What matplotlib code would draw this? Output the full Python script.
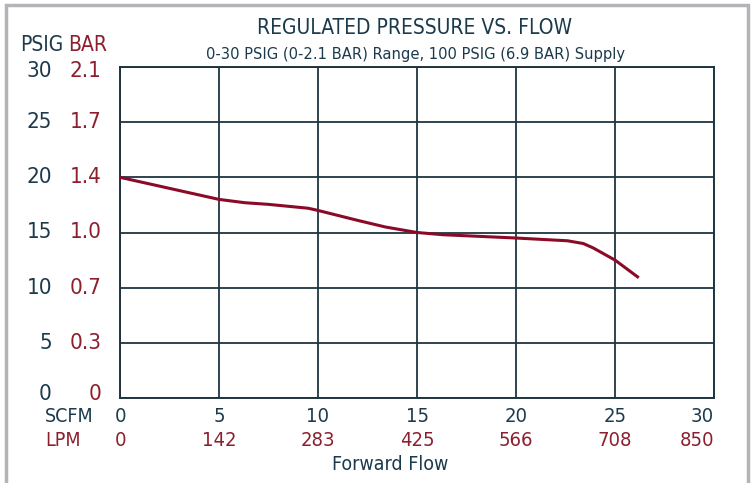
import matplotlib
matplotlib.use("Agg")
import matplotlib.pyplot as plt
from matplotlib import font_manager
from matplotlib.patches import Rectangle
from matplotlib.transforms import offset_copy

cond = [f for f in font_manager.fontManager.ttflist if f.stretch in ("condensed", "semi-condensed", 87.5, 75)]
FONT = cond[0].name if cond else "DejaVu Sans"
plt.rcParams["font.family"] = [FONT, "DejaVu Sans"]
plt.rcParams["font.stretch"] = "condensed"

NAVY = "#1b3a4c"
RED = "#8c1f2e"
LINE = "#8a0a27"
GRID = "#1e3540"

# curve (SCFM, PSIG)
flow_scfm = [0, 2.5, 5, 6.3, 7.5, 9.5, 10, 12, 13.4, 15, 16.3, 20, 22.6, 23.4, 23.9, 25, 26.2]
pressure_psig = [20, 19.0, 18.0, 17.7, 17.55, 17.2, 17.0, 16.1, 15.5, 15.0, 14.8, 14.5, 14.25, 14.0, 13.6, 12.5, 10.9]

psig_ticks = [0, 5, 10, 15, 20, 25, 30]
bar_labels = ["0", "0.3", "0.7", "1.0", "1.4", "1.7", "2.1"]
scfm_ticks = [0, 5, 10, 15, 20, 25, 30]
lpm_labels = ["0", "142", "283", "425", "566", "708", "850"]

fig = plt.figure(figsize=(7.55, 4.83), dpi=100)
ax = fig.add_axes([120 / 755, 1 - 398 / 483, 594 / 755, 331 / 483])

ax.plot(flow_scfm, pressure_psig, color=LINE, linewidth=2.2, solid_capstyle="butt", zorder=3)

ax.set_xlim(0, 30)
ax.set_ylim(0, 30)
ax.set_xticks(scfm_ticks)
ax.set_yticks(psig_ticks)
ax.grid(True, color=GRID, linewidth=1.3)
for s in ax.spines.values():
    s.set_color(GRID)
    s.set_linewidth(1.4)
ax.tick_params(length=0, labelleft=False, labelbottom=False)

# y labels: PSIG and BAR columns (end labels pulled inside a little)
ytr = ax.get_yaxis_transform()
for v, b in zip(psig_ticks, bar_labels):
    dy = 4 if v == psig_ticks[0] else (-4 if v == psig_ticks[-1] else 0)
    tr = offset_copy(ytr, fig=fig, x=0, y=dy, units="dots")
    ax.text(-0.1145, v, str(v), transform=tr, ha="right", va="center",
            fontsize=16, color=NAVY)
    ax.text(-0.031, v, b, transform=tr, ha="right", va="center",
            fontsize=16, color=RED)
fig.text(42 / 755, 1 - 45 / 483, "PSIG", ha="center", va="center", fontsize=15, color=NAVY)
fig.text(88 / 755, 1 - 45 / 483, "BAR", ha="center", va="center", fontsize=15, color=RED)

# x labels: SCFM and LPM rows
xtr = ax.get_xaxis_transform()
for i, (v, l) in enumerate(zip(scfm_ticks, lpm_labels)):
    ha = "right" if i == len(scfm_ticks) - 1 else "center"
    ax.text(v, -(416 - 398) / 331, str(v), transform=xtr, ha=ha, va="center",
            fontsize=14.5, color=NAVY)
    ax.text(v, -(440 - 398) / 331, l, transform=xtr, ha=ha, va="center",
            fontsize=14.5, color=RED)
fig.text(45 / 755, 1 - 416 / 483, "SCFM", ha="left", va="center", fontsize=14, color=NAVY)
fig.text(45 / 755, 1 - 440 / 483, "LPM", ha="left", va="center", fontsize=14, color=RED)
fig.text(390 / 755, 1 - 464 / 483, "Forward Flow", ha="center", va="center", fontsize=14, color=NAVY)

fig.text(415 / 755, 1 - 28 / 483, "REGULATED PRESSURE VS. FLOW", ha="center", va="center",
         fontsize=15, color=NAVY)
fig.text(416 / 755, 1 - 55 / 483, "0-30 PSIG (0-2.1 BAR) Range, 100 PSIG (6.9 BAR) Supply",
         ha="center", va="center", fontsize=11.8, color=NAVY)

# gray frame around the figure (bottom is cut off in the original)
fig.add_artist(Rectangle((6 / 755, -0.05), 742 / 755, 1.05 - 5 / 483, transform=fig.transFigure,
                         fill=False, edgecolor="#b3b3b8", linewidth=2.5))

fig.savefig("out.png", dpi=100)
